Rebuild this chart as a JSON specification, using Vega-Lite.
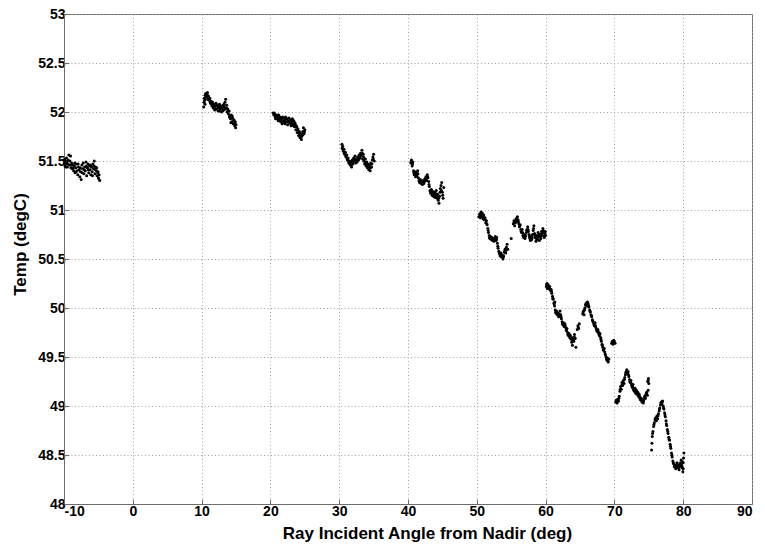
{
  "$schema": "https://vega.github.io/schema/vega-lite/v6.json",
  "width": 688,
  "height": 490,
  "autosize": {"type": "none"},
  "padding": {"left": 64, "top": 14, "right": 13, "bottom": 40},
  "background": "white",
  "config": {
    "view": {"stroke": "#6e6e6e", "strokeWidth": 1},
    "font": "Liberation Sans",
    "axis": {
      "domainColor": "#6e6e6e",
      "tickColor": "#6e6e6e",
      "tickSize": -5,
      "gridColor": "#a0a0a0",
      "gridDash": [1, 2.5],
      "gridWidth": 1,
      "labelFont": "Liberation Sans",
      "labelFontSize": 14,
      "labelFontWeight": "bold",
      "labelColor": "black",
      "titleFont": "Liberation Sans",
      "titleFontSize": 17,
      "titleFontWeight": "bold",
      "titleColor": "black"
    }
  },
  "data": {"values": [
    {"a":-9.95,"t":51.48},{"a":-9.85,"t":51.45},{"a":-9.8,"t":51.5},{"a":-9.7,"t":51.47},{"a":-9.6,"t":51.49},{"a":-9.5,"t":51.44},{"a":-9.4,"t":51.51},{"a":-9.3,"t":51.56},{"a":-9.2,"t":51.46},{"a":-9.05,"t":51.55},{"a":-9.0,"t":51.43},{"a":-8.9,"t":51.48},{"a":-8.8,"t":51.42},{"a":-8.7,"t":51.46},{"a":-8.6,"t":51.4},{"a":-8.5,"t":51.45},{"a":-8.4,"t":51.38},{"a":-8.3,"t":51.43},{"a":-8.2,"t":51.47},{"a":-8.1,"t":51.4},{"a":-8.0,"t":51.36},{"a":-7.9,"t":51.44},{"a":-7.8,"t":51.41},{"a":-7.7,"t":51.34},{"a":-7.6,"t":51.39},{"a":-7.5,"t":51.31},{"a":-7.4,"t":51.46},{"a":-7.3,"t":51.42},{"a":-7.2,"t":51.48},{"a":-7.1,"t":51.37},{"a":-7.0,"t":51.44},{"a":-6.9,"t":51.4},{"a":-6.8,"t":51.49},{"a":-6.7,"t":51.35},{"a":-6.6,"t":51.43},{"a":-6.5,"t":51.47},{"a":-6.4,"t":51.38},{"a":-6.3,"t":51.45},{"a":-6.2,"t":51.41},{"a":-6.1,"t":51.36},{"a":-6.0,"t":51.44},{"a":-5.9,"t":51.39},{"a":-5.8,"t":51.47},{"a":-5.7,"t":51.42},{"a":-5.6,"t":51.5},{"a":-5.5,"t":51.37},{"a":-5.4,"t":51.44},{"a":-5.3,"t":51.4},{"a":-5.2,"t":51.35},{"a":-5.1,"t":51.38},{"a":-5.0,"t":51.33},{"a":-4.9,"t":51.36},{"a":-4.8,"t":51.3},
    {"a":-9.9,"t":51.52},{"a":-9.75,"t":51.44},{"a":-9.65,"t":51.53},{"a":-9.45,"t":51.47},{"a":-9.15,"t":51.5},{"a":-8.95,"t":51.46},{"a":-8.65,"t":51.43},{"a":-8.45,"t":51.48},{"a":-8.25,"t":51.39},{"a":-7.95,"t":51.47},{"a":-7.65,"t":51.43},{"a":-7.35,"t":51.38},{"a":-7.05,"t":51.41},{"a":-6.75,"t":51.45},{"a":-6.45,"t":51.41},{"a":-6.15,"t":51.46},{"a":-5.85,"t":51.35},{"a":-5.65,"t":51.45},{"a":-5.45,"t":51.41},{"a":-5.25,"t":51.43},{"a":-5.05,"t":51.39},{"a":-4.95,"t":51.32},
    {"a":10.3,"t":52.05},{"a":10.35,"t":52.1},{"a":10.4,"t":52.14},{"a":10.5,"t":52.17},{"a":10.5,"t":52.08},{"a":10.6,"t":52.19},{"a":10.7,"t":52.15},{"a":10.8,"t":52.18},{"a":10.9,"t":52.13},{"a":11.0,"t":52.16},{"a":11.1,"t":52.12},{"a":11.2,"t":52.14},{"a":11.3,"t":52.09},{"a":11.4,"t":52.11},{"a":11.5,"t":52.06},{"a":11.6,"t":52.1},{"a":11.7,"t":52.04},{"a":11.8,"t":52.08},{"a":11.9,"t":52.02},{"a":12.0,"t":52.06},{"a":12.1,"t":52.09},{"a":12.2,"t":52.03},{"a":12.3,"t":52.07},{"a":12.4,"t":52.01},{"a":12.5,"t":52.05},{"a":12.6,"t":52.08},{"a":12.7,"t":52.03},{"a":12.8,"t":52.06},{"a":12.9,"t":52.0},{"a":13.0,"t":52.04},{"a":13.1,"t":52.07},{"a":13.2,"t":52.02},{"a":13.3,"t":52.05},{"a":13.4,"t":52.1},{"a":13.5,"t":52.13},{"a":13.6,"t":52.04},{"a":13.7,"t":52.0},{"a":13.8,"t":52.03},{"a":13.9,"t":51.98},{"a":14.0,"t":52.01},{"a":14.1,"t":51.96},{"a":14.2,"t":51.93},{"a":14.3,"t":51.97},{"a":14.4,"t":51.9},{"a":14.5,"t":51.94},{"a":14.6,"t":51.88},{"a":14.7,"t":51.92},{"a":14.8,"t":51.86},{"a":14.9,"t":51.9},{"a":15.0,"t":51.87},
    {"a":10.45,"t":52.12},{"a":10.65,"t":52.16},{"a":10.85,"t":52.2},{"a":11.05,"t":52.13},{"a":11.25,"t":52.1},{"a":11.45,"t":52.08},{"a":11.65,"t":52.07},{"a":11.85,"t":52.05},{"a":12.05,"t":52.03},{"a":12.25,"t":52.06},{"a":12.45,"t":52.04},{"a":12.65,"t":52.01},{"a":12.85,"t":52.04},{"a":13.05,"t":52.01},{"a":13.25,"t":52.08},{"a":13.45,"t":52.03},{"a":13.65,"t":52.07},{"a":13.85,"t":52.01},{"a":14.05,"t":51.95},{"a":14.25,"t":51.89},{"a":14.45,"t":51.96},{"a":14.65,"t":51.91},{"a":14.85,"t":51.88},{"a":14.95,"t":51.84},
    {"a":20.4,"t":51.99},{"a":20.5,"t":51.97},{"a":20.6,"t":51.98},{"a":20.7,"t":51.95},{"a":20.8,"t":51.97},{"a":20.9,"t":51.93},{"a":21.0,"t":51.96},{"a":21.1,"t":51.94},{"a":21.2,"t":51.97},{"a":21.3,"t":51.92},{"a":21.4,"t":51.95},{"a":21.5,"t":51.9},{"a":21.6,"t":51.93},{"a":21.7,"t":51.88},{"a":21.8,"t":51.91},{"a":21.9,"t":51.94},{"a":22.0,"t":51.89},{"a":22.1,"t":51.92},{"a":22.2,"t":51.95},{"a":22.3,"t":51.9},{"a":22.4,"t":51.93},{"a":22.5,"t":51.87},{"a":22.6,"t":51.91},{"a":22.7,"t":51.94},{"a":22.8,"t":51.89},{"a":22.9,"t":51.92},{"a":23.0,"t":51.86},{"a":23.1,"t":51.9},{"a":23.2,"t":51.93},{"a":23.3,"t":51.88},{"a":23.4,"t":51.91},{"a":23.5,"t":51.85},{"a":23.6,"t":51.88},{"a":23.7,"t":51.82},{"a":23.8,"t":51.85},{"a":23.9,"t":51.79},{"a":24.0,"t":51.83},{"a":24.1,"t":51.76},{"a":24.2,"t":51.8},{"a":24.3,"t":51.74},{"a":24.4,"t":51.78},{"a":24.5,"t":51.72},{"a":24.6,"t":51.76},{"a":24.7,"t":51.8},{"a":24.8,"t":51.84},{"a":24.9,"t":51.78},{"a":25.0,"t":51.82},
    {"a":20.55,"t":51.99},{"a":20.75,"t":51.93},{"a":20.95,"t":51.97},{"a":21.15,"t":51.91},{"a":21.35,"t":51.94},{"a":21.55,"t":51.92},{"a":21.75,"t":51.95},{"a":21.95,"t":51.9},{"a":22.15,"t":51.88},{"a":22.35,"t":51.93},{"a":22.55,"t":51.9},{"a":22.75,"t":51.91},{"a":22.95,"t":51.88},{"a":23.15,"t":51.92},{"a":23.35,"t":51.86},{"a":23.55,"t":51.89},{"a":23.75,"t":51.86},{"a":23.95,"t":51.82},{"a":24.15,"t":51.79},{"a":24.35,"t":51.77},{"a":24.55,"t":51.75},{"a":24.75,"t":51.77},{"a":24.95,"t":51.8},
    {"a":30.4,"t":51.67},{"a":30.45,"t":51.63},{"a":30.5,"t":51.65},{"a":30.6,"t":51.6},{"a":30.7,"t":51.62},{"a":30.8,"t":51.57},{"a":30.9,"t":51.59},{"a":31.0,"t":51.54},{"a":31.1,"t":51.56},{"a":31.2,"t":51.51},{"a":31.3,"t":51.53},{"a":31.4,"t":51.48},{"a":31.5,"t":51.5},{"a":31.6,"t":51.46},{"a":31.7,"t":51.49},{"a":31.8,"t":51.44},{"a":31.9,"t":51.51},{"a":32.0,"t":51.47},{"a":32.1,"t":51.53},{"a":32.2,"t":51.5},{"a":32.3,"t":51.55},{"a":32.4,"t":51.48},{"a":32.5,"t":51.52},{"a":32.6,"t":51.49},{"a":32.7,"t":51.54},{"a":32.8,"t":51.51},{"a":32.9,"t":51.56},{"a":33.0,"t":51.53},{"a":33.1,"t":51.58},{"a":33.2,"t":51.55},{"a":33.3,"t":51.61},{"a":33.4,"t":51.52},{"a":33.5,"t":51.57},{"a":33.6,"t":51.5},{"a":33.7,"t":51.47},{"a":33.8,"t":51.52},{"a":33.9,"t":51.45},{"a":34.0,"t":51.49},{"a":34.1,"t":51.43},{"a":34.2,"t":51.47},{"a":34.3,"t":51.41},{"a":34.4,"t":51.46},{"a":34.5,"t":51.4},{"a":34.6,"t":51.48},{"a":34.7,"t":51.44},{"a":34.8,"t":51.51},{"a":34.9,"t":51.54},{"a":35.0,"t":51.57},{"a":35.1,"t":51.5},
    {"a":30.55,"t":51.62},{"a":30.75,"t":51.58},{"a":30.95,"t":51.55},{"a":31.15,"t":51.52},{"a":31.35,"t":51.5},{"a":31.55,"t":51.47},{"a":31.75,"t":51.46},{"a":31.95,"t":51.49},{"a":32.15,"t":51.51},{"a":32.35,"t":51.52},{"a":32.55,"t":51.5},{"a":32.75,"t":51.52},{"a":32.95,"t":51.53},{"a":33.15,"t":51.56},{"a":33.35,"t":51.58},{"a":33.55,"t":51.54},{"a":33.75,"t":51.49},{"a":33.95,"t":51.47},{"a":34.15,"t":51.45},{"a":34.35,"t":51.44},{"a":34.55,"t":51.43},{"a":34.75,"t":51.47},{"a":34.95,"t":51.52},
    {"a":40.4,"t":51.48},{"a":40.5,"t":51.51},{"a":40.6,"t":51.45},{"a":40.7,"t":51.49},{"a":40.8,"t":51.4},{"a":40.9,"t":51.36},{"a":41.0,"t":51.39},{"a":41.1,"t":51.34},{"a":41.2,"t":51.38},{"a":41.3,"t":51.36},{"a":41.4,"t":51.4},{"a":41.5,"t":51.33},{"a":41.6,"t":51.3},{"a":41.7,"t":51.28},{"a":41.8,"t":51.31},{"a":41.9,"t":51.27},{"a":42.0,"t":51.29},{"a":42.1,"t":51.26},{"a":42.2,"t":51.3},{"a":42.3,"t":51.27},{"a":42.4,"t":51.29},{"a":42.5,"t":51.31},{"a":42.6,"t":51.34},{"a":42.7,"t":51.3},{"a":42.8,"t":51.36},{"a":42.9,"t":51.33},{"a":43.0,"t":51.29},{"a":43.1,"t":51.24},{"a":43.2,"t":51.2},{"a":43.3,"t":51.17},{"a":43.4,"t":51.21},{"a":43.5,"t":51.15},{"a":43.6,"t":51.19},{"a":43.7,"t":51.14},{"a":43.8,"t":51.18},{"a":43.9,"t":51.13},{"a":44.0,"t":51.17},{"a":44.1,"t":51.2},{"a":44.2,"t":51.12},{"a":44.3,"t":51.16},{"a":44.4,"t":51.1},{"a":44.5,"t":51.07},{"a":44.6,"t":51.14},{"a":44.7,"t":51.22},{"a":44.8,"t":51.25},{"a":44.9,"t":51.28},{"a":45.0,"t":51.18},{"a":45.1,"t":51.12},{"a":45.2,"t":51.23},
    {"a":40.45,"t":51.5},{"a":40.65,"t":51.47},{"a":40.85,"t":51.38},{"a":41.05,"t":51.36},{"a":41.25,"t":51.35},{"a":41.45,"t":51.37},{"a":41.65,"t":51.29},{"a":41.85,"t":51.28},{"a":42.05,"t":51.28},{"a":42.25,"t":51.28},{"a":42.45,"t":51.32},{"a":42.65,"t":51.32},{"a":42.85,"t":51.34},{"a":43.05,"t":51.26},{"a":43.25,"t":51.19},{"a":43.45,"t":51.18},{"a":43.65,"t":51.16},{"a":43.85,"t":51.15},{"a":44.05,"t":51.14},{"a":44.25,"t":51.14},{"a":44.45,"t":51.12},{"a":44.65,"t":51.18},{"a":44.85,"t":51.2},{"a":45.05,"t":51.15},
    {"a":50.3,"t":50.93},{"a":50.4,"t":50.96},{"a":50.5,"t":50.92},{"a":50.6,"t":50.98},{"a":50.7,"t":50.94},{"a":50.8,"t":50.97},{"a":50.9,"t":50.91},{"a":51.0,"t":50.95},{"a":51.1,"t":50.9},{"a":51.2,"t":50.92},{"a":51.3,"t":50.87},{"a":51.4,"t":50.89},{"a":51.5,"t":50.85},{"a":51.6,"t":50.81},{"a":51.7,"t":50.77},{"a":51.8,"t":50.74},{"a":51.9,"t":50.71},{"a":52.0,"t":50.73},{"a":52.1,"t":50.7},{"a":52.2,"t":50.72},{"a":52.3,"t":50.69},{"a":52.4,"t":50.71},{"a":52.5,"t":50.68},{"a":52.6,"t":50.7},{"a":52.7,"t":50.73},{"a":52.8,"t":50.69},{"a":52.9,"t":50.72},{"a":53.0,"t":50.66},{"a":53.1,"t":50.61},{"a":53.2,"t":50.58},{"a":53.3,"t":50.55},{"a":53.4,"t":50.53},{"a":53.5,"t":50.56},{"a":53.6,"t":50.52},{"a":53.7,"t":50.54},{"a":53.8,"t":50.5},{"a":53.9,"t":50.53},{"a":54.0,"t":50.57},{"a":54.1,"t":50.6},{"a":54.2,"t":50.56},{"a":54.3,"t":50.62},{"a":54.4,"t":50.65},{"a":54.5,"t":50.6},{"a":55.0,"t":50.71},{"a":55.3,"t":50.86},{"a":55.4,"t":50.89},{"a":55.5,"t":50.84},{"a":55.6,"t":50.87},{"a":55.7,"t":50.91},{"a":55.8,"t":50.88},{"a":55.9,"t":50.93},{"a":56.0,"t":50.9},{"a":56.1,"t":50.86},{"a":56.2,"t":50.83},{"a":56.3,"t":50.85},{"a":56.4,"t":50.8},{"a":56.5,"t":50.77},{"a":56.6,"t":50.8},{"a":56.7,"t":50.74},{"a":56.8,"t":50.72},{"a":56.9,"t":50.75},{"a":57.0,"t":50.71},{"a":57.1,"t":50.74},{"a":57.2,"t":50.77},{"a":57.3,"t":50.8},{"a":57.4,"t":50.83},{"a":57.5,"t":50.78},{"a":57.6,"t":50.75},{"a":57.7,"t":50.71},{"a":57.8,"t":50.69},{"a":57.9,"t":50.73},{"a":58.0,"t":50.7},{"a":58.1,"t":50.75},{"a":58.2,"t":50.79},{"a":58.3,"t":50.84},{"a":58.4,"t":50.76},{"a":58.5,"t":50.72},{"a":58.6,"t":50.68},{"a":58.7,"t":50.74},{"a":58.8,"t":50.7},{"a":58.9,"t":50.77},{"a":59.0,"t":50.73},{"a":59.1,"t":50.69},{"a":59.2,"t":50.75},{"a":59.3,"t":50.71},{"a":59.4,"t":50.78},{"a":59.5,"t":50.74},{"a":59.6,"t":50.81},{"a":59.7,"t":50.77},{"a":59.8,"t":50.72},{"a":59.9,"t":50.76},{"a":60.0,"t":50.74},
    {"a":50.45,"t":50.94},{"a":50.65,"t":50.96},{"a":50.85,"t":50.93},{"a":51.05,"t":50.92},{"a":51.25,"t":50.9},{"a":51.45,"t":50.86},{"a":51.65,"t":50.79},{"a":51.85,"t":50.72},{"a":52.05,"t":50.71},{"a":52.25,"t":50.7},{"a":52.45,"t":50.7},{"a":52.65,"t":50.71},{"a":52.85,"t":50.7},{"a":53.05,"t":50.63},{"a":53.25,"t":50.56},{"a":53.45,"t":50.54},{"a":53.65,"t":50.53},{"a":53.85,"t":50.52},{"a":54.05,"t":50.58},{"a":54.25,"t":50.59},{"a":55.45,"t":50.87},{"a":55.65,"t":50.89},{"a":55.85,"t":50.9},{"a":56.05,"t":50.88},{"a":56.25,"t":50.84},{"a":56.45,"t":50.78},{"a":56.65,"t":50.77},{"a":56.85,"t":50.73},{"a":57.05,"t":50.73},{"a":57.25,"t":50.79},{"a":57.45,"t":50.8},{"a":57.65,"t":50.73},{"a":57.85,"t":50.71},{"a":58.05,"t":50.72},{"a":58.25,"t":50.81},{"a":58.45,"t":50.74},{"a":58.65,"t":50.71},{"a":58.85,"t":50.72},{"a":59.05,"t":50.75},{"a":59.25,"t":50.73},{"a":59.45,"t":50.76},{"a":59.65,"t":50.79},{"a":59.85,"t":50.74},{"a":59.95,"t":50.78},
    {"a":60.1,"t":50.22},{"a":60.2,"t":50.25},{"a":60.3,"t":50.21},{"a":60.35,"t":50.24},{"a":60.5,"t":50.2},{"a":60.6,"t":50.22},{"a":60.7,"t":50.18},{"a":60.8,"t":50.19},{"a":60.9,"t":50.15},{"a":61.0,"t":50.12},{"a":61.1,"t":50.09},{"a":61.2,"t":50.05},{"a":61.3,"t":50.02},{"a":61.35,"t":50.06},{"a":61.4,"t":49.98},{"a":61.5,"t":49.95},{"a":61.6,"t":49.97},{"a":61.7,"t":49.93},{"a":61.8,"t":49.95},{"a":61.9,"t":49.91},{"a":62.0,"t":49.94},{"a":62.1,"t":49.97},{"a":62.2,"t":49.93},{"a":62.3,"t":49.89},{"a":62.4,"t":49.86},{"a":62.5,"t":49.83},{"a":62.6,"t":49.85},{"a":62.7,"t":49.81},{"a":62.8,"t":49.84},{"a":62.9,"t":49.8},{"a":63.0,"t":49.77},{"a":63.1,"t":49.79},{"a":63.2,"t":49.75},{"a":63.3,"t":49.72},{"a":63.4,"t":49.74},{"a":63.5,"t":49.7},{"a":63.6,"t":49.72},{"a":63.7,"t":49.68},{"a":63.8,"t":49.65},{"a":63.9,"t":49.62},{"a":64.0,"t":49.7},{"a":64.1,"t":49.66},{"a":64.2,"t":49.73},{"a":64.3,"t":49.69},{"a":64.4,"t":49.6},{"a":64.6,"t":49.78},{"a":64.7,"t":49.82},{"a":64.8,"t":49.79},{"a":64.9,"t":49.84},
    {"a":60.15,"t":50.24},{"a":60.25,"t":50.2},{"a":60.45,"t":50.22},{"a":60.65,"t":50.19},{"a":60.85,"t":50.17},{"a":61.05,"t":50.1},{"a":61.25,"t":50.04},{"a":61.45,"t":49.96},{"a":61.65,"t":49.94},{"a":61.85,"t":49.93},{"a":62.05,"t":49.92},{"a":62.25,"t":49.91},{"a":62.45,"t":49.84},{"a":62.65,"t":49.83},{"a":62.85,"t":49.82},{"a":63.05,"t":49.78},{"a":63.25,"t":49.73},{"a":63.45,"t":49.72},{"a":63.65,"t":49.7},{"a":63.85,"t":49.68},{"a":64.05,"t":49.67},{"a":64.25,"t":49.7},{"a":64.75,"t":49.8},
    {"a":65.4,"t":49.94},{"a":65.5,"t":49.97},{"a":65.6,"t":49.93},{"a":65.7,"t":50.0},{"a":65.8,"t":50.03},{"a":65.9,"t":50.05},{"a":66.0,"t":50.02},{"a":66.1,"t":50.06},{"a":66.2,"t":50.04},{"a":66.3,"t":50.01},{"a":66.4,"t":49.98},{"a":66.5,"t":49.96},{"a":66.6,"t":49.93},{"a":66.7,"t":49.91},{"a":66.8,"t":49.88},{"a":66.9,"t":49.86},{"a":67.0,"t":49.84},{"a":67.1,"t":49.82},{"a":67.2,"t":49.85},{"a":67.3,"t":49.8},{"a":67.4,"t":49.78},{"a":67.5,"t":49.76},{"a":67.6,"t":49.78},{"a":67.7,"t":49.74},{"a":67.8,"t":49.72},{"a":67.9,"t":49.74},{"a":68.0,"t":49.7},{"a":68.1,"t":49.66},{"a":68.2,"t":49.63},{"a":68.3,"t":49.6},{"a":68.4,"t":49.57},{"a":68.5,"t":49.59},{"a":68.6,"t":49.55},{"a":68.7,"t":49.52},{"a":68.8,"t":49.5},{"a":68.9,"t":49.47},{"a":69.0,"t":49.49},{"a":69.1,"t":49.45},{"a":69.2,"t":49.48},{"a":69.6,"t":49.64},{"a":69.7,"t":49.66},{"a":69.8,"t":49.63},{"a":69.9,"t":49.67},{"a":70.0,"t":49.65},{"a":70.1,"t":49.64},
    {"a":65.45,"t":49.96},{"a":65.65,"t":49.98},{"a":65.85,"t":50.04},{"a":66.05,"t":50.05},{"a":66.25,"t":50.02},{"a":66.45,"t":49.97},{"a":66.65,"t":49.92},{"a":66.85,"t":49.87},{"a":67.05,"t":49.83},{"a":67.25,"t":49.82},{"a":67.45,"t":49.77},{"a":67.65,"t":49.76},{"a":67.85,"t":49.73},{"a":68.05,"t":49.68},{"a":68.25,"t":49.62},{"a":68.45,"t":49.58},{"a":68.65,"t":49.53},{"a":68.85,"t":49.48},{"a":69.05,"t":49.46},{"a":69.75,"t":49.65},{"a":69.95,"t":49.66},
    {"a":70.2,"t":49.04},{"a":70.3,"t":49.06},{"a":70.4,"t":49.03},{"a":70.5,"t":49.07},{"a":70.6,"t":49.05},{"a":70.7,"t":49.1},{"a":70.8,"t":49.15},{"a":70.9,"t":49.2},{"a":71.0,"t":49.17},{"a":71.1,"t":49.24},{"a":71.2,"t":49.21},{"a":71.3,"t":49.26},{"a":71.4,"t":49.23},{"a":71.5,"t":49.29},{"a":71.6,"t":49.32},{"a":71.7,"t":49.35},{"a":71.8,"t":49.37},{"a":71.9,"t":49.33},{"a":72.0,"t":49.35},{"a":72.1,"t":49.3},{"a":72.2,"t":49.27},{"a":72.3,"t":49.24},{"a":72.4,"t":49.26},{"a":72.5,"t":49.21},{"a":72.6,"t":49.19},{"a":72.7,"t":49.22},{"a":72.8,"t":49.17},{"a":72.9,"t":49.15},{"a":73.0,"t":49.18},{"a":73.1,"t":49.13},{"a":73.2,"t":49.16},{"a":73.3,"t":49.12},{"a":73.4,"t":49.14},{"a":73.5,"t":49.1},{"a":73.6,"t":49.12},{"a":73.7,"t":49.08},{"a":73.8,"t":49.06},{"a":73.9,"t":49.08},{"a":74.0,"t":49.04},{"a":74.1,"t":49.06},{"a":74.2,"t":49.03},{"a":74.3,"t":49.07},{"a":74.4,"t":49.1},{"a":74.5,"t":49.08},{"a":74.6,"t":49.12},{"a":74.7,"t":49.14},{"a":74.8,"t":49.11},{"a":74.9,"t":49.16},{"a":74.85,"t":49.25},{"a":74.95,"t":49.28},{"a":75.0,"t":49.23},
    {"a":70.25,"t":49.05},{"a":70.45,"t":49.05},{"a":70.65,"t":49.08},{"a":70.85,"t":49.17},{"a":71.05,"t":49.21},{"a":71.25,"t":49.24},{"a":71.45,"t":49.27},{"a":71.65,"t":49.34},{"a":71.85,"t":49.35},{"a":72.05,"t":49.32},{"a":72.25,"t":49.25},{"a":72.45,"t":49.23},{"a":72.65,"t":49.2},{"a":72.85,"t":49.16},{"a":73.05,"t":49.15},{"a":73.25,"t":49.14},{"a":73.45,"t":49.12},{"a":73.65,"t":49.1},{"a":73.85,"t":49.07},{"a":74.05,"t":49.05},{"a":74.25,"t":49.05},{"a":74.45,"t":49.09},{"a":74.65,"t":49.13},{"a":74.9,"t":49.26},
    {"a":75.4,"t":48.55},{"a":75.45,"t":48.62},{"a":75.5,"t":48.69},{"a":75.6,"t":48.74},{"a":75.7,"t":48.79},{"a":75.8,"t":48.83},{"a":75.9,"t":48.86},{"a":76.0,"t":48.88},{"a":76.1,"t":48.85},{"a":76.2,"t":48.9},{"a":76.3,"t":48.87},{"a":76.4,"t":48.92},{"a":76.5,"t":48.95},{"a":76.6,"t":48.98},{"a":76.7,"t":49.01},{"a":76.8,"t":49.04},{"a":76.9,"t":49.02},{"a":77.0,"t":49.05},{"a":77.1,"t":49.0},{"a":77.2,"t":48.97},{"a":77.3,"t":48.93},{"a":77.4,"t":48.89},{"a":77.5,"t":48.85},{"a":77.6,"t":48.8},{"a":77.7,"t":48.76},{"a":77.8,"t":48.72},{"a":77.9,"t":48.68},{"a":78.0,"t":48.65},{"a":78.1,"t":48.61},{"a":78.2,"t":48.57},{"a":78.3,"t":48.52},{"a":78.4,"t":48.48},{"a":78.5,"t":48.44},{"a":78.6,"t":48.41},{"a":78.7,"t":48.38},{"a":78.8,"t":48.4},{"a":78.9,"t":48.36},{"a":79.0,"t":48.39},{"a":79.1,"t":48.42},{"a":79.2,"t":48.37},{"a":79.3,"t":48.4},{"a":79.4,"t":48.35},{"a":79.5,"t":48.38},{"a":79.6,"t":48.42},{"a":79.7,"t":48.45},{"a":79.8,"t":48.39},{"a":79.9,"t":48.43},{"a":80.0,"t":48.36},{"a":80.05,"t":48.47},{"a":80.1,"t":48.52},{"a":79.95,"t":48.33},
    {"a":75.55,"t":48.72},{"a":75.75,"t":48.81},{"a":75.95,"t":48.87},{"a":76.15,"t":48.88},{"a":76.35,"t":48.9},{"a":76.55,"t":48.97},{"a":76.75,"t":49.03},{"a":76.95,"t":49.04},{"a":77.15,"t":48.98},{"a":77.35,"t":48.91},{"a":77.55,"t":48.82},{"a":77.75,"t":48.74},{"a":77.95,"t":48.66},{"a":78.15,"t":48.59},{"a":78.35,"t":48.5},{"a":78.55,"t":48.42},{"a":78.75,"t":48.39},{"a":78.95,"t":48.38},{"a":79.15,"t":48.39},{"a":79.35,"t":48.37},{"a":79.55,"t":48.4},{"a":79.75,"t":48.41},{"a":79.85,"t":48.37},{"a":80.0,"t":48.42}
  ]},
  "mark": {"type": "point", "filled": true, "shape": "circle", "size": 9, "color": "black", "opacity": 1},
  "encoding": {
    "x": {
      "field": "a", "type": "quantitative",
      "scale": {"domain": [-10, 90], "nice": false, "zero": false},
      "axis": {"values": [-10, 0, 10, 20, 30, 40, 50, 60, 70, 80, 90], "labelExpr": "'' + datum.value", "title": "Ray Incident Angle from Nadir (deg)", "labelPadding": 5, "titleX": 363, "titleY": 34, "titleBaseline": "alphabetic", "titleAnchor": "middle", "titleAlign": "center"}
    },
    "y": {
      "field": "t", "type": "quantitative",
      "scale": {"domain": [48, 53], "nice": false, "zero": false},
      "axis": {"values": [48, 48.5, 49, 49.5, 50, 50.5, 51, 51.5, 52, 52.5, 53], "labelExpr": "'' + datum.value", "title": "Temp (degC)", "labelPadding": 4, "titleX": -39, "titleY": 230, "titleBaseline": "alphabetic", "titleAlign": "center"}
    }
  }
}
